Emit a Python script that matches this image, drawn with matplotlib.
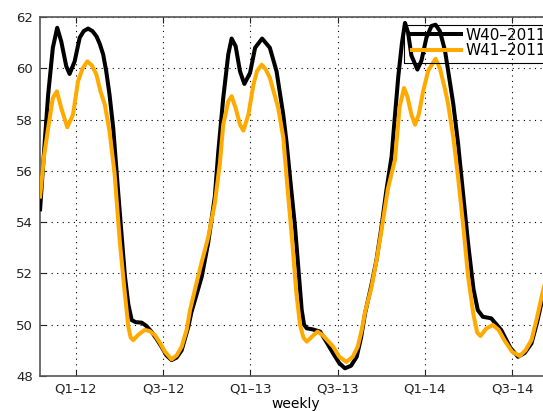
import matplotlib
matplotlib.use("Agg")
import matplotlib.pyplot as plt
from matplotlib.patches import Rectangle

# weeks counted from the Q1-12 tick
w40_weeks = [-10.7, -9.5, -8.3, -6.9, -5.6, -4.4, -2.9, -1.9, -0.4, 1.1, 2.3, 3.6, 4.9, 6.1, 7.1,
             8.1, 9.0, 10.0, 11.1, 12.6, 13.6, 14.6, 15.6, 16.6, 17.8, 19.6, 21.0, 22.5, 24.0,
             25.5, 27.0, 28.5, 30.0, 31.5, 33.5, 34.4, 36.0, 37.5, 39.4, 41.4, 42.4, 43.9, 45.4,
             46.4, 47.6, 48.9, 50.2, 51.9, 53.4, 55.5, 57.8, 59.8, 61.8, 62.8, 64.0, 65.3, 66.3,
             67.3, 68.0, 68.8, 70.5, 72.8, 74.8, 76.7, 78.5, 80.2, 82.0, 83.7, 85.0, 86.2, 88.0,
             89.6, 91.1, 92.5, 94.1, 95.0, 96.1, 97.2, 98.1, 99.0, 100.0, 101.8, 103.0, 104.5,
             106.0, 107.2, 108.5, 110.0, 110.9, 112.5, 113.9, 115.5, 116.9, 118.5, 119.8, 121.3,
             123.8, 126.8, 129.5, 131.8, 133.8, 135.8, 137.5, 139.2, 140.5]
w40_vals = [54.5, 56.8, 58.97, 60.8, 61.58, 61.05, 60.08, 59.78, 60.27, 61.19, 61.45, 61.55, 61.45,
            61.25, 60.95, 60.54, 59.9, 58.97, 57.67, 55.13, 53.5, 51.88, 50.8, 50.18, 50.1, 50.08,
            49.95, 49.73, 49.45, 49.14, 48.8, 48.62, 48.72, 49.0, 49.92, 50.48, 51.2, 51.88, 53.18,
            55.0, 56.7, 58.84, 60.54, 61.16, 60.86, 59.88, 59.39, 59.82, 60.8, 61.16, 60.8, 59.88,
            58.19, 57.09, 55.5, 53.83, 52.2, 50.57, 50.0, 49.86, 49.82, 49.73, 49.3, 48.88, 48.5,
            48.3, 48.4, 48.75, 49.5, 50.45, 51.5, 52.53, 53.83, 55.2, 56.56, 58.0, 59.69, 61.0,
            61.77, 61.4, 60.5, 59.95, 60.3, 61.2, 61.65, 61.7, 61.45, 60.7, 59.95, 58.6, 57.09,
            55.0, 53.18, 51.4, 50.57, 50.31, 50.25, 49.79, 49.1, 48.75, 48.9, 49.27, 50.1, 51.1,
            51.9]

w41_weeks = [-10.7, -9.5, -8.3, -6.9, -5.7, -4.4, -2.6, -0.9, 0.6, 2.0, 3.4, 4.8, 6.1, 7.3, 8.6,
             10.0, 11.5, 13.1, 14.5, 15.6, 16.3, 17.1, 18.5, 20.5, 22.0, 23.5, 25.0, 26.5, 28.5,
             30.0, 31.5, 33.0, 34.0, 35.7, 37.4, 39.4, 41.4, 42.9, 43.9, 45.4, 46.4, 47.6, 48.9,
             49.9, 51.4, 52.9, 54.0, 55.4, 56.6, 57.8, 60.3, 61.8, 63.2, 64.5, 65.7, 66.8, 67.8,
             68.8, 70.5, 72.0, 73.5, 76.7, 78.5, 80.6, 82.5, 84.0, 85.2, 86.2, 88.0, 89.6, 91.1,
             93.0, 95.1, 96.5, 97.8, 98.8, 100.0, 101.1, 102.2, 103.5, 105.0, 107.2, 108.5, 110.0,
             110.9, 112.5, 113.9, 115.5, 116.9, 118.5, 119.6, 120.6, 122.3, 124.3, 126.0, 127.7,
             130.0, 132.3, 134.0, 135.8, 137.5, 139.2, 140.5]
w41_vals = [55.0, 56.6, 57.67, 58.84, 59.1, 58.45, 57.7, 58.19, 59.49, 60.0, 60.27, 60.1, 59.75,
            59.1, 58.58, 57.54, 55.9, 53.18, 51.3, 49.92, 49.5, 49.4, 49.6, 49.8, 49.75, 49.6,
            49.3, 48.95, 48.65, 48.8, 49.14, 49.8, 50.57, 51.5, 52.4, 53.4, 54.74, 56.3, 57.8,
            58.71, 58.91, 58.45, 57.8, 57.57, 58.19, 59.36, 59.9, 60.14, 59.95, 59.63, 58.45,
            57.3, 55.13, 53.2, 51.23, 50.0, 49.5, 49.34, 49.55, 49.73, 49.6, 49.14, 48.75, 48.55,
            48.75, 49.14, 49.8, 50.5, 51.4, 52.5, 53.7, 55.3, 56.43, 58.5, 59.23, 58.9, 58.2,
            57.8, 58.2, 59.1, 59.9, 60.37, 60.0, 59.2, 58.65, 57.3, 55.78, 53.8, 51.88, 50.4,
            49.7, 49.56, 49.85, 49.99, 49.8, 49.4, 48.95, 48.78, 49.0, 49.4, 50.3, 51.3, 52.0]

tick_pos = [0, 26, 52, 78, 104, 130]
tick_labels = ["Q1–12", "Q3–12", "Q1–13", "Q3–13", "Q1–14", "Q3–14"]
y_ticks = [48, 50, 52, 54, 56, 58, 60, 62]

plt.rcParams['font.family'] = ['DejaVu Sans']

W, H = 543, 411
fig = plt.figure(figsize=(W / 100, H / 100), dpi=100)
# axes runs past the right border, as in the cropped original
ax = fig.add_axes([40 / W, 35 / H, 525 / W, 359 / H])

ax.plot(w40_weeks, w40_vals, color="black", lw=2.9, label="W40–2011", zorder=3)
ax.plot(w41_weeks, w41_vals, color="#FFAA00", lw=2.9, label="W41–2011", zorder=4)

ax.set_xlim(-10.73, 145.8)
ax.set_ylim(48, 62)
ax.set_xticks(tick_pos)
ax.set_xticklabels(tick_labels)
ax.set_yticks(y_ticks)
ax.grid(True, color="black", linestyle=(0, (1, 4)), linewidth=0.8)
ax.tick_params(direction="in", top=True, right=True, length=4, labelsize=9.5,
               colors="#222222", pad=5)
for s in ax.spines.values():
    s.set_color("#555555")
    s.set_linewidth(1.2)
ax.set_xlabel("weekly", fontsize=10)
ax.xaxis.set_label_coords((296 - 40) / 525, -0.058)

# legend box: transparent frame drawn by hand so it can run off the right edge
ax.add_patch(Rectangle((404 / W, 1 - 63 / H), 160 / W, 38 / H, transform=fig.transFigure,
                       facecolor="none", edgecolor="black", linewidth=0.8, zorder=5,
                       clip_on=False))
leg = ax.legend(loc="upper left", bbox_to_anchor=((410 - 40) / 525, (376 - 26) / 359),
                fontsize=11, frameon=False, handlelength=3.25, borderpad=0.1,
                labelspacing=0.05, handletextpad=0.25, borderaxespad=0)
leg.set_zorder(6)

fig.savefig("out.png", dpi=100)
